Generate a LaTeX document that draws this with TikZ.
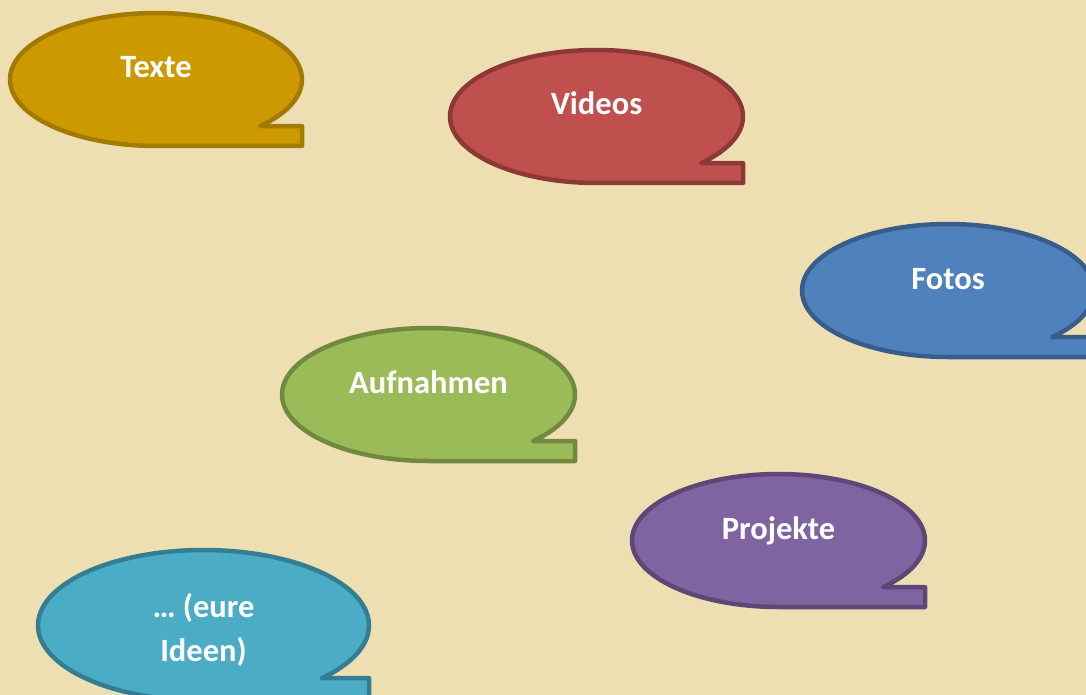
\documentclass[tikz,border=0pt]{standalone}
\usepackage{fontspec}
\setmainfont{Carlito}
\definecolor{bg}{HTML}{EEDFB2}
\definecolor{goldF}{HTML}{CC9900}\definecolor{goldD}{HTML}{A37A00}
\definecolor{redF}{HTML}{C0504D}\definecolor{redD}{HTML}{8C3836}
\definecolor{blueF}{HTML}{4F81BD}\definecolor{blueD}{HTML}{385D8A}
\definecolor{greenF}{HTML}{9BBB59}\definecolor{greenD}{HTML}{71893F}
\definecolor{purpF}{HTML}{8064A2}\definecolor{purpD}{HTML}{5C4776}
\definecolor{aquaF}{HTML}{4BACC6}\definecolor{aquaD}{HTML}{357D91}
\tikzset{
  bubble/.style={line width=4.5pt, line join=round},
  lbl/.style={text=white, font=\fontsize{32.5}{44}\selectfont\bfseries, anchor=base, inner sep=0pt, align=center}
}
% #1 cx, #2 cy, #3 rx, #4 ry, #5 fill, #6 draw
\newcommand\speechbubble[6]{%
  \filldraw[bubble, fill=#5, draw=#6]
    ({#1+#3*cos(44.43)},{#2+0.7*#4})
    arc[start angle=44.43, end angle=-270, x radius=#3, y radius=#4]
    -- ({#1+#3},{#2+#4}) -- ({#1+#3},{#2+0.7*#4}) -- cycle;}
\begin{document}
\begin{tikzpicture}[x=1pt,y=-1pt]
\fill[bg] (0,0) rectangle (1086,695);
\useasboundingbox (0,0) rectangle (1086,695);
\clip (0,0) rectangle (1086,695);
\speechbubble{156}{79.5}{146}{66.5}{goldF}{goldD}
\node[lbl] (texte) at (156,78) {Texte};
\speechbubble{596.5}{116.5}{146.5}{66.5}{redF}{redD}
\node[lbl] (videos) at (596.5,115) {Videos};
\speechbubble{948}{290.5}{146}{66.5}{blueF}{blueD}
\node[lbl] (fotos) at (948,289) {Fotos};
\speechbubble{428.5}{394.5}{146.5}{66.5}{greenF}{greenD}
\node[lbl] (aufnahmen) at (428.5,393) {Aufnahmen};
\speechbubble{778.5}{540.5}{146.5}{66.5}{purpF}{purpD}
\node[lbl] (projekte) at (778.5,539) {Projekte};
\speechbubble{203.5}{625.4}{165.5}{75.4}{aquaF}{aquaD}
\node[lbl] (ideen) at (203.5,661.5) {… (eure\\Ideen)};
\end{tikzpicture}
\end{document}
